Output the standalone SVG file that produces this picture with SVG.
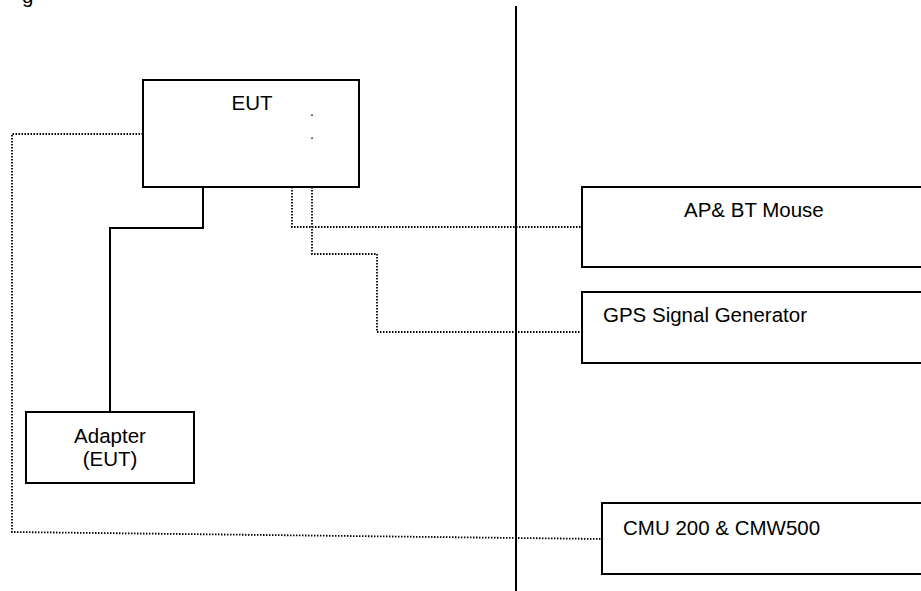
<svg xmlns="http://www.w3.org/2000/svg" width="921" height="591" viewBox="0 0 921 591">
<style>
.box{fill:#fff;stroke:#000;stroke-width:2}
.solid{fill:none;stroke:#000;stroke-width:2}
.dot{fill:none;stroke:#000;stroke-width:1.8;stroke-dasharray:1.5 1.5}
text{font-family:"Liberation Sans",Arial,sans-serif;font-size:20.5px;fill:#000}
.pt{font-size:14px}
</style>
<rect width="921" height="591" fill="#fff"/>
<text x="22" y="2.5">g</text>
<g id="connectors">
<line class="solid" x1="516" y1="6" x2="516" y2="591"/>
<polyline class="solid" points="203,187 203,228 110,228 110,412"/>
<polyline class="dot" points="143,134 12,134 12,532 602,539"/>
<polyline class="dot" points="292,187 292,227 582,227"/>
<polyline class="dot" points="312,187 312,254 377,254 377,332 582,332"/>
</g>
<g id="eut">
<rect class="box" x="143" y="80" width="216" height="107"/>
<text x="252" y="110" text-anchor="middle">EUT</text>
<text class="pt" x="310" y="115.5">.</text>
<text class="pt" x="310" y="139">.</text>
</g>
<g id="adapter">
<rect class="box" x="26" y="412" width="168" height="71"/>
<text x="110" y="443" text-anchor="middle">Adapter</text>
<text x="110" y="466" text-anchor="middle">(EUT)</text>
</g>
<g id="ap-bt-mouse">
<rect class="box" x="582" y="187" width="340" height="80"/>
<text x="684" y="217">AP&amp; BT Mouse</text>
</g>
<g id="gps">
<rect class="box" x="582" y="292" width="340" height="71"/>
<text x="603" y="322">GPS Signal Generator</text>
</g>
<g id="cmu">
<rect class="box" x="602" y="503" width="320" height="71"/>
<text x="623" y="535">CMU 200 &amp; CMW500</text>
</g>
</svg>
